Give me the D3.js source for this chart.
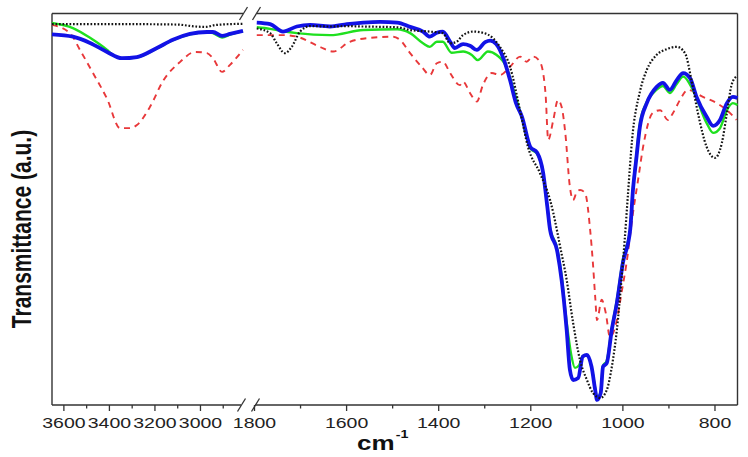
<!DOCTYPE html>
<html><head><meta charset="utf-8">
<script src="https://cdn.jsdelivr.net/npm/d3@7"></script>
<style>body{margin:0;background:#fff}svg{display:block}</style>
</head><body><svg id="c" width="748" height="457"></svg>
<script>
// ---- tick values ----
const highMajorTicks = [3600, 3400, 3200, 3000];
const highMinorTicks = [3500, 3300, 3100, 2900];
const lowMajorTicks = [1800, 1600, 1400, 1200, 1000, 800];
const lowMinorTicks = [1700, 1500, 1300, 1100, 900];
const xTitle = "cm", xTitleSup = "-1";
const yTitle = "Transmittance (a.u.)";

// ---- series: [wavenumber, transmittance (a.u.)] ----
const blackHigh = [[3650,97.4],[3500,97.4],[3300,97.4],[3100,97.3],[3020,96.8],[2975,96.7],[2930,97.2],[2811,97.5]];
const redHigh = [[3650,97.2],[3571,95.1],[3527,90.8],[3470,84.9],[3408,78.3],[3351,70.8],[3307,70.8],[3277,71.6],[3220,76.2],[3162,82.9],[3088,87.7],[3022,90.3],[2969,90.0],[2943,88.7],[2903,85.2],[2868,87.0],[2811,90.8]];
const greenHigh = [[3650,97.7],[3558,96.4],[3483,93.9],[3408,90.8],[3382,89.5],[3343,88.6],[3277,88.9],[3189,91.2],[3119,93.3],[3044,94.8],[2969,95.3],[2943,95.1],[2903,94.0],[2868,94.7],[2811,95.6]];
const blueHigh = [[3650,94.8],[3558,94.2],[3483,92.6],[3408,90.3],[3343,88.7],[3277,89.0],[3189,91.3],[3119,93.4],[3044,94.9],[2969,95.4],[2943,95.4],[2903,94.4],[2868,94.9],[2811,95.7]];

const blackLow = [[1794,96.3],[1765,95.1],[1751,92.6],[1733,90.0],[1718,91.6],[1700,95.5],[1678,96.9],[1635,96.8],[1598,96.9],[1563,96.8],[1489,96.6],[1461,95.9],[1418,95.5],[1390,95.1],[1374,92.5],[1360,92.9],[1346,94.6],[1324,95.5],[1303,95.2],[1281,93.8],[1266,91.6],[1244,86.5],[1222,75.2],[1205,66.0],[1179,59.3],[1157,52.4],[1150,49.1],[1135,40.4],[1121,32.0],[1107,21.0],[1092,11.5],[1077,6.4],[1064,3.1],[1048,1.8],[1034,3.8],[1023,9.7],[1012,19.2],[1002,32.0],[995,42.2],[988,53.7],[979,67.8],[962,80.1],[947,85.7],[926,89.5],[904,91.0],[882,91.6],[864,90.0],[850,83.1],[836,74.7],[817,66.0],[799,63.2],[784,67.0],[773,74.7],[763,81.8],[752,84.1]];
const redLow = [[1794,94.6],[1737,94.6],[1707,94.2],[1657,91.6],[1628,90.4],[1592,92.9],[1548,93.9],[1498,94.2],[1483,93.4],[1461,90.0],[1436,86.5],[1418,84.4],[1403,87.4],[1390,87.8],[1374,84.9],[1353,81.8],[1346,82.7],[1331,79.8],[1316,77.6],[1303,81.8],[1284,84.9],[1266,84.4],[1244,86.5],[1222,89.1],[1208,87.8],[1194,89.1],[1179,87.8],[1167,79.8],[1161,67.8],[1150,72.9],[1140,78.0],[1132,76.3],[1124,69.6],[1114,55.8],[1107,52.4],[1099,54.5],[1092,55.0],[1081,54.2],[1070,44.8],[1064,36.3],[1059,27.6],[1055,21.7],[1045,26.9],[1036,23.5],[1027,17.4],[1012,21.7],[1002,28.6],[991,36.3],[977,49.1],[966,57.5],[955,66.0],[934,74.7],[918,75.4],[901,72.9],[890,74.7],[875,78.0],[858,80.6],[825,78.8],[795,77.2],[773,75.4],[752,72.9]];
const greenLow = [[1794,96.6],[1765,96.2],[1737,95.6],[1707,95.1],[1635,94.6],[1563,95.9],[1489,96.1],[1461,95.1],[1433,92.5],[1418,91.6],[1403,92.9],[1390,92.9],[1371,90.1],[1346,90.4],[1327,89.5],[1314,88.2],[1292,90.4],[1273,89.5],[1251,86.2],[1238,81.3],[1219,73.7],[1200,65.7],[1185,64.2],[1172,59.1],[1163,50.6],[1157,45.3],[1142,40.2],[1132,33.2],[1121,21.2],[1111,12.8],[1103,9.5],[1094,10.2],[1086,12.5],[1077,12.8],[1067,9.7],[1059,4.3],[1055,1.8],[1047,3.3],[1042,10.0],[1034,11.3],[1023,19.7],[1012,26.9],[999,37.1],[983,45.3],[977,55.5],[970,63.5],[962,72.1],[947,77.5],[926,80.6],[912,81.6],[897,79.8],[882,82.1],[868,84.0],[847,80.6],[817,72.1],[803,69.6],[788,70.8],[773,75.4],[760,77.2],[750,76.7]];
const blueLow = [[1794,97.8],[1765,97.4],[1737,95.5],[1707,96.8],[1678,97.2],[1635,96.8],[1598,97.4],[1563,97.8],[1526,98.0],[1489,97.8],[1461,96.7],[1433,95.5],[1418,94.2],[1403,95.2],[1390,95.5],[1374,92.9],[1364,91.3],[1346,92.3],[1331,91.9],[1316,90.8],[1298,92.8],[1287,93.2],[1274,92.3],[1257,88.2],[1244,83.1],[1231,77.2],[1218,73.7],[1200,66.0],[1185,64.5],[1172,59.3],[1163,50.7],[1157,44.8],[1142,39.6],[1132,32.0],[1121,19.2],[1114,9.0],[1107,6.4],[1096,6.9],[1086,12.4],[1077,12.8],[1067,9.8],[1059,3.8],[1055,1.3],[1047,3.1],[1042,9.8],[1034,10.7],[1023,19.2],[1012,26.1],[999,36.3],[983,44.8],[977,55.0],[970,62.7],[962,71.1],[947,77.2],[926,81.3],[912,82.4],[897,80.6],[882,83.1],[868,84.9],[853,83.6],[839,78.8],[817,73.7],[803,71.4],[788,72.9],[773,77.2],[760,78.8],[750,78.5]];

// ---- layout ----
const L = 52, R = 737.5, T = 13.5, B = 405;
const svg = d3.select("#c");
const xHigh = d3.scaleLinear().domain([3650, 2800]).range([L, 245.5]);
const xLow = d3.scaleLinear().domain([1800, 750]).range([254, R]);
const y = d3.scaleLinear().domain([0, 100]).range([B, 14]);
const axisColor = "#333";
const SX = 1.3; // horizontal stretch of the original picture's text

// frame
const frame = svg.append("g").attr("stroke", axisColor).attr("stroke-width", 1.4).attr("fill", "none");
frame.append("line").attr("x1", L).attr("x2", L).attr("y1", T).attr("y2", B);
frame.append("line").attr("x1", R).attr("x2", R).attr("y1", T).attr("y2", B);
frame.append("line").attr("x1", L).attr("x2", 243).attr("y1", T).attr("y2", T);
frame.append("line").attr("x1", 257).attr("x2", R).attr("y1", T).attr("y2", T);
frame.append("line").attr("x1", L).attr("x2", 241).attr("y1", B).attr("y2", B);
frame.append("line").attr("x1", 255).attr("x2", R).attr("y1", B).attr("y2", B);
// break marks
[[243.5, T], [256.5, T], [241.5, B], [255.5, B]].forEach(([cx, cy]) => {
  frame.append("line").attr("x1", cx - 4).attr("y1", cy + 6.5).attr("x2", cx + 4).attr("y2", cy - 6.5).attr("stroke-width", 1.3);
});

function drawAxis(scale, major, minor) {
  const gMaj = svg.append("g").attr("transform", `translate(0,${B})`)
    .call(d3.axisBottom(scale).tickValues(major).tickSize(6).tickSizeOuter(0).tickFormat(d3.format("d")));
  gMaj.select(".domain").remove();
  gMaj.selectAll(".tick line").attr("stroke", axisColor).attr("stroke-width", 1.3);
  gMaj.selectAll(".tick text").attr("y", 23).attr("dy", 0)
    .attr("transform", `scale(${SX},1)`)
    .attr("fill", "#222").style("font-family", "'Liberation Sans', Arial, sans-serif").style("font-size", "15px");
  const gMin = svg.append("g").attr("transform", `translate(0,${B})`)
    .call(d3.axisBottom(scale).tickValues(minor).tickSize(3.5).tickSizeOuter(0).tickFormat(""));
  gMin.select(".domain").remove();
  gMin.selectAll(".tick line").attr("stroke", axisColor).attr("stroke-width", 1.3);
}
drawAxis(xHigh, highMajorTicks, highMinorTicks);
drawAxis(xLow, lowMajorTicks, lowMinorTicks);

// titles
const xt = svg.append("text").attr("transform", `translate(357,450) scale(${SX},1)`)
  .style("font-family", "'Liberation Sans', Arial, sans-serif").style("font-weight", "bold").attr("fill", "#111");
xt.append("tspan").style("font-size", "20px").text(xTitle);
xt.append("tspan").style("font-size", "11px").attr("dy", -12).attr("dx", 1).text(xTitleSup);

svg.append("text").attr("transform", `translate(30.5,229) scale(${SX},1) rotate(-90)`)
  .attr("text-anchor", "middle")
  .style("font-family", "'Liberation Sans', Arial, sans-serif").style("font-weight", "bold").style("font-size", "21px")
  .attr("fill", "#111").text(yTitle);

// series
const series = [
  { high: redHigh, low: redLow, color: "#e8383a", width: 1.9, dash: "6,5" },
  { high: greenHigh, low: greenLow, color: "#1fe01f", width: 2.4, dash: null },
  { high: blueHigh, low: blueLow, color: "#1212e6", width: 3.8, dash: null },
  { high: blackHigh, low: blackLow, color: "#141414", width: 2.2, dash: "1.7,1.8" }
];
series.forEach(s => {
  [[s.high, xHigh], [s.low, xLow]].forEach(([data, xs]) => {
    const line = d3.line().x(d => xs(d[0])).y(d => y(d[1])).curve(d3.curveMonotoneX);
    svg.append("path").datum(data).attr("d", line)
      .attr("fill", "none").attr("stroke", s.color).attr("stroke-width", s.width)
      .attr("stroke-linejoin", "round")
      .attr("stroke-dasharray", s.dash);
  });
});
</script></body></html>
